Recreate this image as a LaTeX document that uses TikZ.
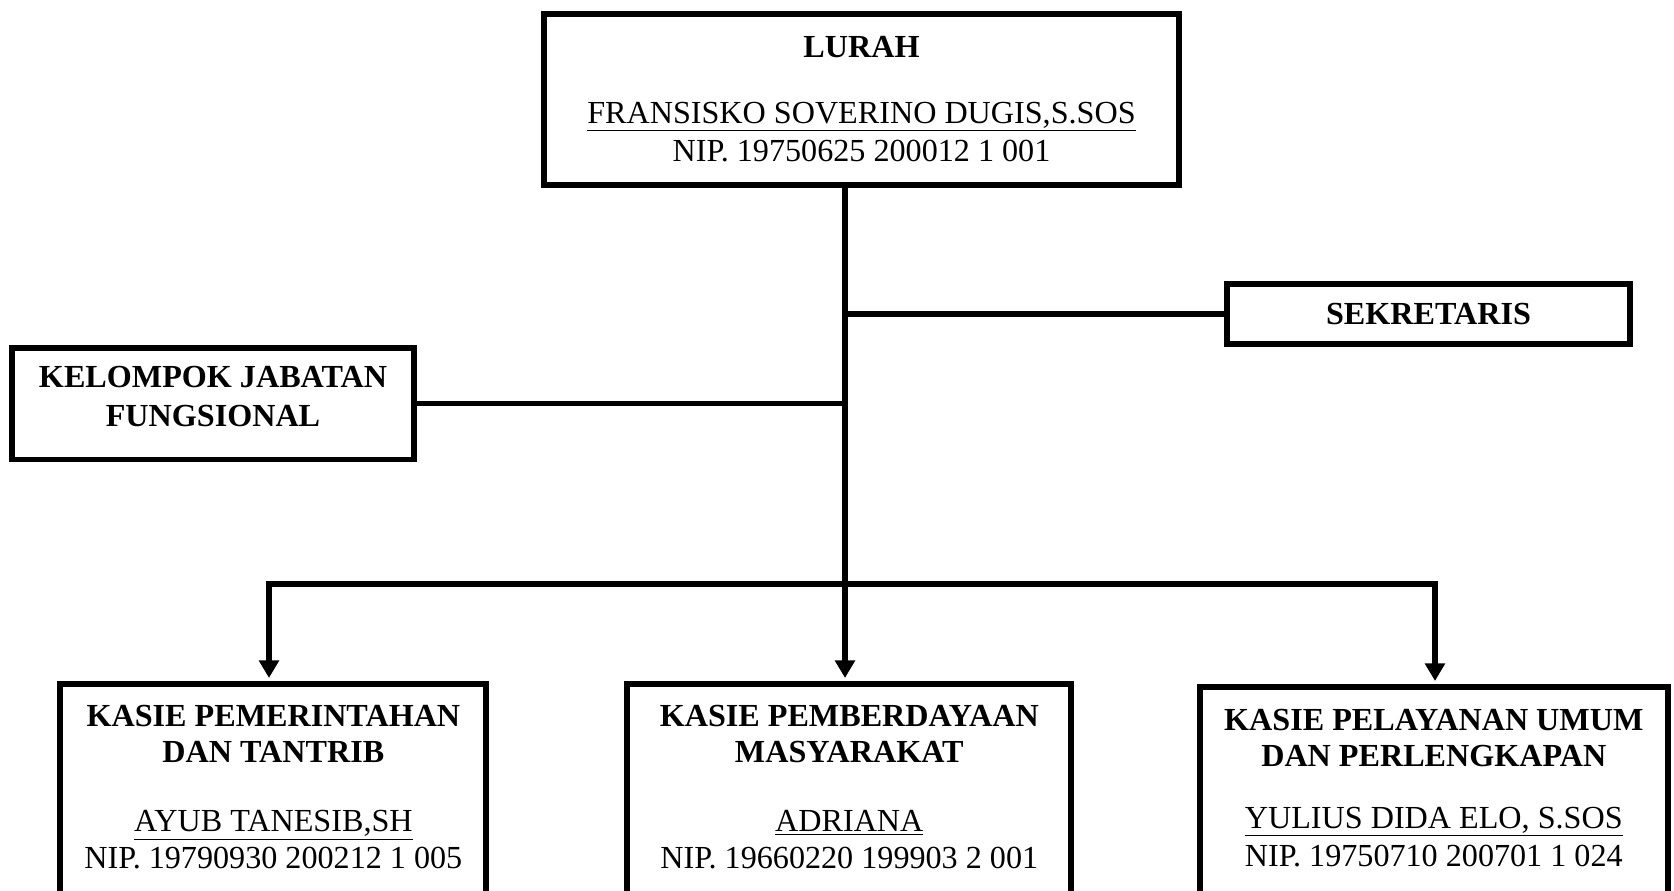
\documentclass[tikz,border=0pt]{standalone}
\usepackage{fontspec}
\setmainfont{Liberation Serif}
\usetikzlibrary{arrows.meta}

\begin{document}
\begin{tikzpicture}[
        x=0.02cm, y=-0.02cm,
        box/.style={rectangle, draw, line width=3.4pt, inner sep=0pt, align=center,
                    font=\fontsize{18.3}{20.6}\selectfont},
        unit/.style={box, minimum height=4.2cm, text depth=0.1cm},
        conn/.style={line width=3.4pt},
        arrow/.style={conn, -{Triangle[width=11pt,length=10pt]}, shorten >=1.7pt},
        biarrow/.style={conn, {Triangle[width=11pt,length=10pt]}-{Triangle[width=11pt,length=10pt]},
                        shorten <=1.7pt, shorten >=1.7pt},
    ]
    \useasboundingbox (0,0) rectangle (1674,890);
    \clip (0,0) rectangle (1674,890);

    % Head of office
    \node[box, minimum width=12.70cm, minimum height=3.42cm, text depth=0.04cm] (lurah) at (861.5,99.5)
        {\textbf{LURAH}\\[16.9pt]\underline{FRANSISKO SOVERINO DUGIS,S.SOS}\\[1pt]NIP. 19750625 200012 1 001};

    % Staff boxes beside the trunk
    \node[box, minimum width=8.06cm, minimum height=1.21cm] (sekr) at (1428.5,314) {\textbf{SEKRETARIS}};
    \node[box, minimum width=8.04cm, minimum height=2.24cm, text depth=0.27cm] (kjf) at (213,403.5)
        {\textbf{KELOMPOK JABATAN}\\[1.5pt]\textbf{FUNGSIONAL}};

    % Section heads (bottom edge just shows at the page border)
    \node[unit, minimum width=8.52cm, anchor=north] (kpem) at (273.4,681)
        {\textbf{KASIE PEMERINTAHAN}\\\textbf{DAN TANTRIB}\\[19pt]\underline{AYUB TANESIB,SH}\\NIP. 19790930 200212 1 005};
    \node[unit, minimum width=8.88cm, anchor=north] (kpmd) at (849.3,681)
        {\textbf{KASIE PEMBERDAYAAN}\\\textbf{MASYARAKAT}\\[19pt]\underline{ADRIANA}\\NIP. 19660220 199903 2 001};
    \node[unit, minimum width=9.37cm, minimum height=4.14cm, text depth=0.12cm, anchor=north] (kpel) at (1433.8,684)
        {\textbf{KASIE PELAYANAN UMUM}\\\textbf{DAN PERLENGKAPAN}\\[14.6pt]\underline{YULIUS DIDA ELO, S.SOS}\\[1pt]NIP. 19750710 200701 1 024};

    % Junction points
    \coordinate (trunk) at (845,188);
    \coordinate (busL) at (269,584);
    \coordinate (busR) at (1435,584);

    % Connectors
    \draw[arrow] (lurah.south -| trunk) -- (kpmd.north -| trunk);
    \draw[conn] (sekr.west -| trunk) -- (sekr.west);
    \draw[conn] (kjf.east -| trunk) -- (kjf.east);
    \draw[biarrow] (kpem.north -| busL) -- (busL) -- (busR) -- (kpel.north -| busR);
\end{tikzpicture}
\end{document}
